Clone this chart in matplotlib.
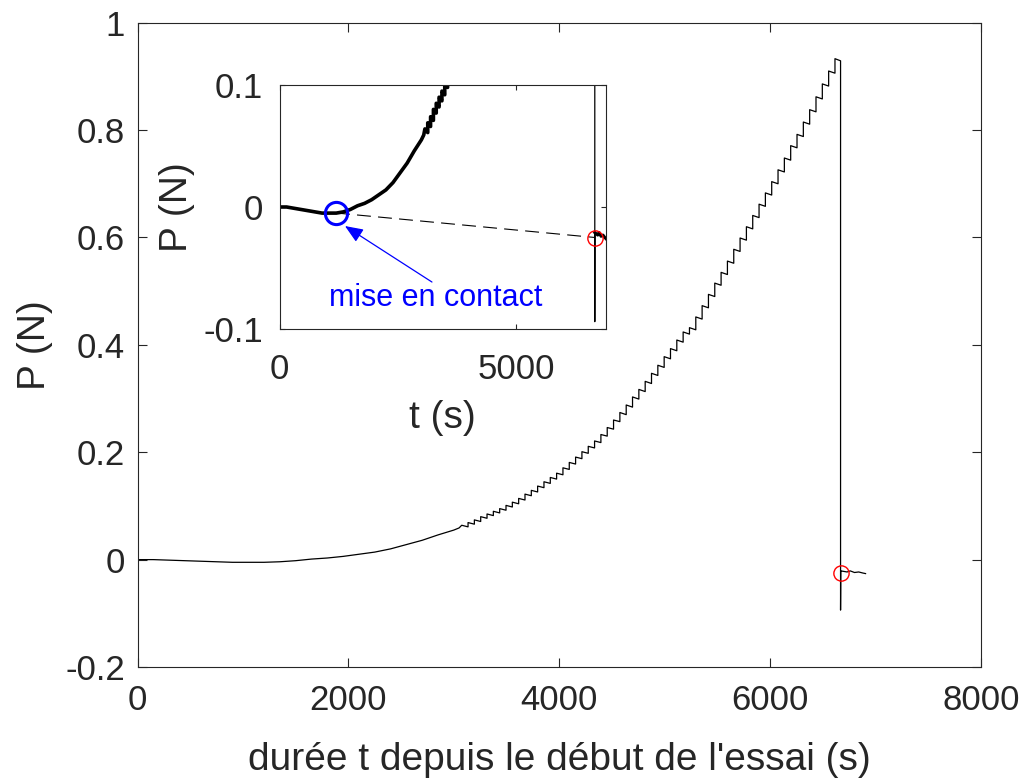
import matplotlib
matplotlib.use("Agg")
import matplotlib.pyplot as plt

plt.rcParams['font.family'] = ['Liberation Sans', 'DejaVu Sans']
plt.rcParams['axes.unicode_minus'] = False

# --- data ---
# start of the test: slow drift, then the contact
t_low = [0, 150, 300, 450, 600, 750, 900, 1050, 1200, 1350, 1500, 1650, 1800,
         1950, 2100, 2250, 2400, 2550, 2700, 2850, 3000, 3050]
p_low = [0.000, 0.000, -0.001, -0.002, -0.003, -0.004, -0.005, -0.005, -0.005,
         -0.004, -0.002, 0.001, 0.003, 0.006, 0.010, 0.014, 0.020, 0.028,
         0.036, 0.046, 0.055, 0.059]

# loading steps: time of each jump, load just after the jump, load before the next one
step_t = [3075, 3135, 3195, 3255, 3315, 3375, 3435, 3495, 3555, 3615,
          3675, 3735, 3795, 3855, 3915, 3975, 4035, 4095, 4155, 4215,
          4275, 4335, 4395, 4455, 4515, 4575, 4635, 4695, 4755, 4815,
          4875, 4935, 4995, 5055, 5115, 5175, 5235, 5295, 5355, 5415,
          5475, 5535, 5595, 5655, 5715, 5775, 5835, 5895, 5955, 6015,
          6075, 6135, 6195, 6255, 6315, 6375, 6435, 6495, 6555, 6615]
step_top = [0.064, 0.069, 0.074, 0.080, 0.085, 0.090, 0.095, 0.101, 0.107, 0.114,
            0.122, 0.129, 0.137, 0.145, 0.153, 0.161, 0.171, 0.181, 0.191, 0.201,
            0.211, 0.221, 0.233, 0.246, 0.260, 0.274, 0.288, 0.303, 0.317, 0.332,
            0.347, 0.362, 0.378, 0.393, 0.409, 0.424, 0.432, 0.452, 0.473, 0.494,
            0.515, 0.535, 0.556, 0.578, 0.599, 0.620, 0.641, 0.662, 0.683, 0.704,
            0.726, 0.748, 0.771, 0.792, 0.815, 0.838, 0.862, 0.886, 0.910, 0.933]
step_end = [0.061, 0.066, 0.071, 0.077, 0.082, 0.087, 0.092, 0.098, 0.104, 0.111,
            0.119, 0.126, 0.134, 0.142, 0.150, 0.158, 0.168, 0.178, 0.188, 0.198,
            0.208, 0.218, 0.230, 0.243, 0.257, 0.270, 0.284, 0.299, 0.313, 0.328,
            0.343, 0.358, 0.374, 0.389, 0.405, 0.420, 0.428, 0.448, 0.469, 0.490,
            0.511, 0.531, 0.552, 0.574, 0.595, 0.616, 0.637, 0.658, 0.679, 0.700,
            0.722, 0.744, 0.767, 0.788, 0.811, 0.834, 0.858, 0.882, 0.906, 0.929]

# rupture and what follows
t_drop = 6668
p_drop_min = -0.094
t_tail = [6670, 6700, 6730, 6760, 6800, 6840, 6880, 6905]
p_tail = [-0.021, -0.022, -0.023, -0.021, -0.024, -0.023, -0.025, -0.026]

# marked points
t_contact, p_contact = 1195, -0.0049
t_end, p_end = 6672, -0.025

main_xticks = [0, 2000, 4000, 6000, 8000]
main_yticks = [-0.2, 0, 0.2, 0.4, 0.6, 0.8, 1]
main_ylabels = ['-0.2', '0', '0.2', '0.4', '0.6', '0.8', '1']
inset_xticks = [0, 5000]
inset_yticks = [-0.1, 0, 0.1]
inset_ylabels = ['-0.1', '0', '0.1']

# build the full curve
t_curve = list(t_low)
p_curve = list(p_low)
for i, t in enumerate(step_t):
    t_next = step_t[i + 1] if i + 1 < len(step_t) else t_drop
    t_curve += [t, t_next]
    p_curve += [step_top[i], step_end[i]]
t_curve += [t_drop] + t_tail
p_curve += [p_drop_min] + p_tail

AX_COL = '#262626'


def style_axes(ax, tick_len, pad_x, pad_y):
    for sp in ax.spines.values():
        sp.set_color(AX_COL)
        sp.set_linewidth(0.8)
    ax.tick_params(direction='in', top=True, right=True, length=tick_len,
                   width=0.8, colors=AX_COL, labelsize=25)
    ax.tick_params(axis='x', pad=pad_x)
    ax.tick_params(axis='y', pad=pad_y)


W, H = 1023, 778
fig = plt.figure(figsize=(W / 100, H / 100), dpi=100)

# main axes
ax = fig.add_axes([137.5 / W, 1 - 667 / H, (981 - 137.5) / W, (667 - 22.7) / H])
ax.plot(t_curve, p_curve, color='black', lw=0.9)
ax.plot([t_end], [p_end], 'o', ms=11, mfc='none', mec='red', mew=1.0)
ax.set_xlim(0, 8000)
ax.set_ylim(-0.2, 1)
ax.set_xticks(main_xticks)
ax.set_yticks(main_yticks)
ax.set_yticklabels(main_ylabels)
style_axes(ax, 6.5, 12, 9)
ax.set_xlabel("durée t depuis le début de l'essai (s)", fontsize=28, color=AX_COL, labelpad=18)
ax.set_ylabel('P (N)', fontsize=28, color=AX_COL, labelpad=9)

# inset
axi = fig.add_axes([279.5 / W, 1 - 329 / H, (606 - 279.5) / W, (329 - 85) / H])
axi.plot(t_curve, p_curve, color='black', lw=0.9)
n_low = len(t_low)
axi.plot(t_curve[:n_low + 24], p_curve[:n_low + 24], color='black', lw=2.6)
axi.plot(t_tail, p_tail, color='black', lw=2.2)
axi.plot([t_contact, t_end], [p_contact, p_end], color='black', lw=0.8,
         dashes=(12.5, 6.5))
axi.plot([t_end], [p_end], 'o', ms=11, mfc='none', mec='red', mew=1.0)
axi.plot([t_contact], [p_contact], 'o', ms=16, mfc='none', mec='blue', mew=2.2)
axi.annotate('', xy=(1385, -0.0156), xytext=(3224, -0.0615),
             arrowprops=dict(arrowstyle='-|>,head_length=1.1,head_width=0.45',
                             color='blue', lw=0.9, shrinkA=0, shrinkB=0))
axi.text(3309, -0.081, 'mise en contact', color='blue', fontsize=22,
         ha='center', va='baseline')
axi.set_xlim(0, 6905)
axi.set_ylim(-0.1, 0.1)
axi.set_xticks(inset_xticks)
axi.set_yticks(inset_yticks)
axi.set_yticklabels(inset_ylabels)
style_axes(axi, 3.5, 17, 12)
axi.set_xlabel('t (s)', fontsize=28, color=AX_COL, labelpad=10)
axi.set_ylabel('P (N)', fontsize=28, color=AX_COL, labelpad=6)

fig.savefig('out.png', dpi=100)
